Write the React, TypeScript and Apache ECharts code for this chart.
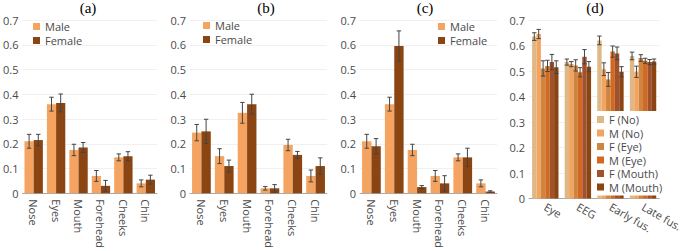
import React, { useEffect, useRef } from "react";
import * as echarts from "echarts";

const FACE_CATS = ["Nose", "Eyes", "Mouth", "Forehead", "Cheeks", "Chin"];
const A_MALE = [0.21, 0.36, 0.175, 0.07, 0.145, 0.04];
const A_MALE_ERR = [0.028, 0.028, 0.023, 0.022, 0.014, 0.014];
const A_FEMALE = [0.215, 0.365, 0.185, 0.03, 0.15, 0.055];
const A_FEMALE_ERR = [0.023, 0.036, 0.02, 0.022, 0.018, 0.018];

const B_MALE = [0.245, 0.15, 0.325, 0.02, 0.195, 0.07];
const B_MALE_ERR = [0.033, 0.03, 0.042, 0.007, 0.023, 0.024];
const B_FEMALE = [0.25, 0.11, 0.36, 0.02, 0.155, 0.11];
const B_FEMALE_ERR = [0.049, 0.024, 0.04, 0.015, 0.014, 0.033];

const C_MALE = [0.21, 0.36, 0.175, 0.07, 0.145, 0.04];
const C_MALE_ERR = [0.028, 0.028, 0.023, 0.022, 0.014, 0.014];
const C_FEMALE = [0.19, 0.595, 0.025, 0.04, 0.145, 0.007];
const C_FEMALE_ERR = [0.031, 0.061, 0.006, 0.031, 0.037, 0.003];

const D_CATS = ["Eye", "EEG", "Early fus.", "Late fus."];
const D_NAMES = ["F (No)", "M (No)", "F (Eye)", "M (Eye)", "F (Mouth)", "M (Mouth)"];
const D_F_NO = [0.635, 0.535, 0.62, 0.559];
const D_M_NO = [0.645, 0.527, 0.507, 0.497];
const D_F_EYE = [0.51, 0.522, 0.467, 0.551];
const D_M_EYE = [0.52, 0.495, 0.576, 0.54];
const D_F_MOUTH = [0.535, 0.556, 0.569, 0.535];
const D_M_MOUTH = [0.515, 0.517, 0.497, 0.537];
const D_F_NO_ERR = [0.015, 0.012, 0.017, 0.015];
const D_M_NO_ERR = [0.018, 0.01, 0.025, 0.022];
const D_F_EYE_ERR = [0.03, 0.022, 0.027, 0.013];
const D_M_EYE_ERR = [0.022, 0.018, 0.022, 0.01];
const D_F_MOUTH_ERR = [0.03, 0.028, 0.025, 0.01];
const D_M_MOUTH_ERR = [0.025, 0.02, 0.02, 0.01];

const Y_TICKS_MAX = 0.7;
const PANEL_TITLES = ["(a)", "(b)", "(c)", "(d)"];

const MALE_COLOR = "#F4A460";
const FEMALE_COLOR = "#8B4513";
const D_COLORS = ["#DEB887", "#F4A460", "#CD853F", "#D2691E", "#A0522D", "#8B4513"];

const TEXT_COLOR = "#4a4a4a";
const FONT = "'Open Sans', sans-serif";

export default function App() {
  const ref = useRef<HTMLDivElement>(null);

  useEffect(() => {
    if (!ref.current) return;
    const chart = echarts.init(ref.current, null, { renderer: "svg" });

    const grids = [
      { left: 21, top: 20, width: 136, height: 178.5 },
      { left: 190, top: 20, width: 137, height: 178.5 },
      { left: 360, top: 20, width: 137, height: 178.5 },
      { left: 529, top: 20, width: 138, height: 178.5 },
    ];
    const gaps = [0.18, 0.18, 0.18, 0.19];

    const xAxes = grids.map((_, i) => ({
      type: "category",
      gridIndex: i,
      data: i < 3 ? FACE_CATS : D_CATS,
      axisLine: { show: true, lineStyle: { color: "#aaa", width: 1 } },
      axisTick: { show: false },
      axisLabel: {
        rotate: i < 3 ? -90 : -30,
        color: TEXT_COLOR,
        fontSize: 11,
        fontFamily: FONT,
        margin: i < 3 ? 6 : 7,
        interval: 0,
      },
    }));

    const yAxes = grids.map((_, i) => ({
      type: "value",
      gridIndex: i,
      min: 0,
      max: Y_TICKS_MAX,
      interval: 0.1,
      axisLine: { show: false },
      axisTick: { show: false },
      splitLine: { show: true, lineStyle: { color: "#f0f0f0", width: 1 } },
      axisLabel: {
        color: TEXT_COLOR,
        fontSize: 11,
        fontFamily: FONT,
        margin: 4,
        formatter: (v: number) => (v === 0 ? "0" : v.toFixed(1)),
      },
    }));

    const series: any[] = [];

    const addPanel = (
      gi: number,
      names: string[],
      colors: string[],
      values: number[][],
      errs: number[][]
    ) => {
      const n = names.length;
      names.forEach((name, si) => {
        series.push({
          type: "bar",
          name,
          xAxisIndex: gi,
          yAxisIndex: gi,
          data: values[si],
          itemStyle: { color: colors[si] },
          barGap: "0%",
          barCategoryGap: gaps[gi] * 100 + "%",
          z: 2,
        });
      });
      const errData: number[][] = [];
      values.forEach((vals, si) => {
        vals.forEach((v, ci) => {
          errData.push([ci, v, errs[si][ci], si, n]);
        });
      });
      const gap = gaps[gi];
      series.push({
        type: "custom",
        name: "err" + gi,
        xAxisIndex: gi,
        yAxisIndex: gi,
        z: 5,
        silent: true,
        encode: { x: 0, y: 1 },
        data: errData,
        renderItem: (params: any, api: any) => {
          const ci = api.value(0);
          const v = api.value(1);
          const e = api.value(2);
          const si = api.value(3);
          const cnt = api.value(4);
          const c = api.coord([ci, v]);
          const band = api.size([1, 0])[0];
          const group = band * (1 - gap);
          const bw = group / cnt;
          const x = c[0] - group / 2 + bw * (si + 0.5);
          const top = api.coord([ci, v + e])[1];
          const bot = api.coord([ci, Math.max(0, v - e)])[1];
          const cap = 2.2;
          const style = { stroke: "#444", lineWidth: 1 };
          return {
            type: "group",
            children: [
              { type: "line", shape: { x1: x, y1: top, x2: x, y2: bot }, style },
              { type: "line", shape: { x1: x - cap, y1: top, x2: x + cap, y2: top }, style },
              { type: "line", shape: { x1: x - cap, y1: bot, x2: x + cap, y2: bot }, style },
            ],
          };
        },
      });
    };

    addPanel(0, ["Male", "Female"], [MALE_COLOR, FEMALE_COLOR], [A_MALE, A_FEMALE], [A_MALE_ERR, A_FEMALE_ERR]);
    addPanel(1, ["Male", "Female"], [MALE_COLOR, FEMALE_COLOR], [B_MALE, B_FEMALE], [B_MALE_ERR, B_FEMALE_ERR]);
    addPanel(2, ["Male", "Female"], [MALE_COLOR, FEMALE_COLOR], [C_MALE, C_FEMALE], [C_MALE_ERR, C_FEMALE_ERR]);
    addPanel(
      3,
      D_NAMES,
      D_COLORS,
      [D_F_NO, D_M_NO, D_F_EYE, D_M_EYE, D_F_MOUTH, D_M_MOUTH],
      [D_F_NO_ERR, D_M_NO_ERR, D_F_EYE_ERR, D_M_EYE_ERR, D_F_MOUTH_ERR, D_M_MOUTH_ERR]
    );

    const legendBase = {
      orient: "vertical",
      icon: "rect",
      itemWidth: 7,
      itemHeight: 7,
      itemGap: 3,
      selectedMode: false,
      textStyle: { color: TEXT_COLOR, fontSize: 11, fontFamily: FONT },
    };

    const legends = [
      { ...legendBase, data: ["Male", "Female"], left: 29, top: 19, padding: [2, 4] },
      { ...legendBase, data: ["Male", "Female"], left: 199, top: 18, padding: [2, 4] },
      { ...legendBase, data: ["Male", "Female"], left: 434, top: 19, padding: [2, 4] },
      {
        ...legendBase,
        data: D_NAMES,
        left: 594,
        top: 111,
        itemGap: 2.5,
        padding: [3, 3, 3, 3],
        backgroundColor: "#ffffff",
        z: 10,
      },
    ];

    const titleX = [88, 266, 425, 595];

    chart.setOption({
      animation: false,
      backgroundColor: "#ffffff",
      grid: grids,
      xAxis: xAxes,
      yAxis: yAxes,
      legend: legends,
      series,
      graphic: PANEL_TITLES.map((t, i) => ({
        type: "text",
        x: titleX[i],
        y: 0,
        z: 20,
        style: {
          text: t,
          fill: "#000",
          fontSize: 15,
          fontWeight: "normal",
          fontFamily: "'Liberation Serif', 'DejaVu Serif', serif",
          textAlign: "center",
          textVerticalAlign: "top",
        },
      })),
    });

    return () => chart.dispose();
  }, []);

  return (
    <div
      ref={ref}
      style={{ position: "fixed", left: 0, top: 0, width: 685, height: 251 }}
    />
  );
}
